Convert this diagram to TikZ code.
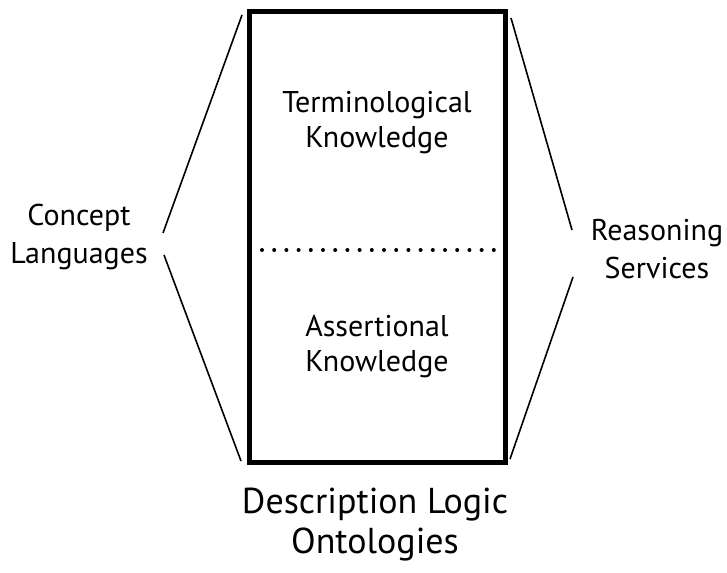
\documentclass[tikz,border=0pt]{standalone}
\usepackage{fontspec}
\setmainfont{PT Sans}
\usetikzlibrary{calc}
\tikzset{
	part/.style={align=center,font=\fontsize{15}{17.5}\selectfont},
	side/.style={align=center,font=\fontsize{15}{19}\selectfont},
	edge/.style={line width=0.8pt},
}

\begin{document}
\begin{tikzpicture}[x=0.5pt,y=-0.5pt]
	\useasboundingbox (0,0) rectangle (727,572);
	% the ontology box
	\node (dlo) at (377,237) [draw,line width=2.5pt,minimum width=128pt,minimum height=225pt] {};
	\node (tbox) at (377,123) [part] {Terminological\\Knowledge};
	\node (abox) at (377,347) [part] {Assertional\\Knowledge};
	\coordinate (dl) at (262,250);
	\coordinate (dr) at (494,250);
	\draw [line width=2pt,line cap=round,dash pattern=on 0pt off 6.1pt] (dl) -- (dr);
	\node (title) at (375,525) [font=\fontsize{18}{20}\selectfont,align=center] {Description Logic\\Ontologies};
	% left side
	\node (lang) at (79,237) [side] {Concept\\Languages};
	\coordinate (L1) at (242,15);
	\coordinate (L2) at (163,233);
	\coordinate (L3) at (164,255);
	\coordinate (L4) at (241,461);
	\draw [edge] (L1) -- (L2);
	\draw [edge] (L3) -- (L4);
	% right side
	\node (reas) at (657,249) [side] {Reasoning\\Services};
	\coordinate (R1) at (511,18);
	\coordinate (R2) at (572,230);
	\coordinate (R3) at (573,277);
	\coordinate (R4) at (510,459);
	\draw [edge] (R1) -- (R2);
	\draw [edge] (R3) -- (R4);
\end{tikzpicture}
\end{document}
